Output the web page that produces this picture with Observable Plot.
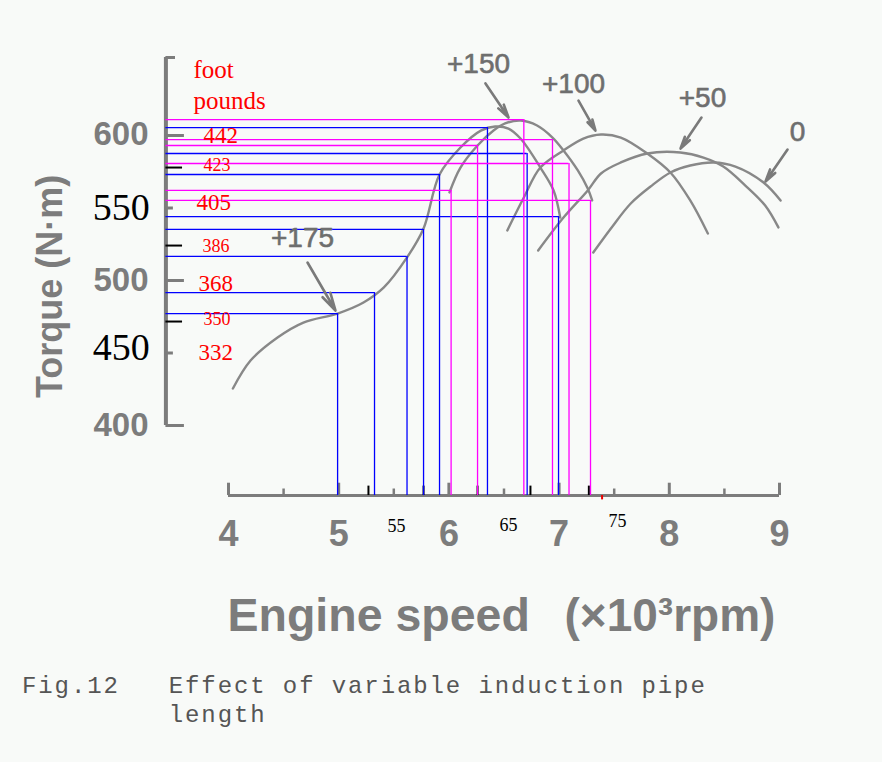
<!DOCTYPE html>
<html><head><meta charset="utf-8">
<script src="https://cdn.jsdelivr.net/npm/d3@7"></script>
<script src="https://cdn.jsdelivr.net/npm/@observablehq/plot@0.6"></script>
<style>
html,body{margin:0;padding:0;background:#f8faf8;}
#chart svg{display:block;background:transparent;}
#caption{font-family:"Liberation Mono",monospace;font-size:24px;letter-spacing:1.9px;color:#555;line-height:29px;white-space:pre;margin:17px 0 0 22px;}
</style></head><body>
<div id="chart"></div>
<div id="caption"></div>
<script>
// ---- data ----
const xTicks = [4, 5, 6, 7, 8, 9];
const xTickLabels = ["4", "5", "6", "7", "8", "9"];
const xHalfTicks = [4.5, 5.5, 6.5, 7.5, 8.5];
const xMarks = [5.27, 5.77, 6.26, 6.74, 7.27];
const xMarkLabels = ["55", "65", "75"];
const xMarkLabelRpm = [5.525, 6.541, 7.53];
const xMarkLabelTq = [330.3, 331.0, 333.8];

const yTicks = [400, 450, 500, 550, 600];
const yTickLabels = ["400", "450", "500", "550", "600"];
const yTickLabelTq = [400, 453.8, 500, 550.3, 600.7];

const ftlbLabels = ["442", "423", "405", "386", "368", "350", "332"];
const ftlbLabelRpm = [3.773, 3.773, 3.710, 3.764, 3.728, 3.773, 3.728];
const ftlbLabelTq = [594.5, 575.2, 548.3, 520.0, 493.1, 469.0, 445.5];
const ftlbTickTq = [577.9, 524.1, 471.7];
const unitLabels = ["foot", "pounds"];
const unitLabelTq = [640.0, 618.6];

const seriesNames = ["+175", "+150", "+100", "+50", "0"];
const rpm175 = [4.04, 4.20, 4.445, 4.68, 4.99, 5.225, 5.41, 5.62, 5.77, 5.915, 6.105, 6.29, 6.42, 6.54, 6.65, 6.83, 6.95, 7.01];
const tq175  = [425.5, 444.8, 460.7, 471.0, 477.2, 484.8, 495.2, 515.9, 535.9, 573.1, 591.7, 603.4, 606.2, 604.8, 597.9, 577.9, 562.1, 543.4];
const rpm150 = [6.005, 6.105, 6.26, 6.405, 6.51, 6.65, 6.80, 6.94, 7.04, 7.17, 7.26, 7.30];
const tq150  = [560.7, 577.9, 593.1, 603.4, 608.3, 610.3, 606.9, 598.6, 589.7, 575.9, 563.4, 555.2];
const rpm100 = [6.53, 6.68, 6.83, 7.04, 7.22, 7.38, 7.56, 7.80, 8.01, 8.19, 8.35];
const tq100  = [534.5, 557.2, 577.9, 589.7, 597.9, 600.7, 598.6, 587.6, 574.5, 555.2, 532.4];
const rpm50  = [6.81, 7.04, 7.26, 7.38, 7.56, 7.80, 8.10, 8.31, 8.49, 8.69, 8.87, 8.99];
const tq50   = [520.7, 543.4, 562.1, 573.8, 581.4, 587.6, 588.3, 584.8, 578.6, 565.5, 551.7, 536.6];
const rpm0   = [7.31, 7.47, 7.65, 7.83, 8.01, 8.19, 8.40, 8.60, 8.855, 9.01];
const tq0    = [519.3, 535.9, 553.1, 564.8, 574.5, 579.3, 581.4, 578.6, 567.6, 555.2];

const blueRpm = [4.99, 5.325, 5.62, 5.77, 5.915, 6.35, 6.71, 6.995];
const blueTq  = [477.2, 491.7, 516.6, 535.2, 573.1, 605.5, 587.6, 544.1];
const magentaRpm = [6.02, 6.26, 6.68, 6.94, 7.09, 7.285];
const magentaTq  = [562.1, 593.1, 611.0, 597.2, 580.7, 555.2];

const labelRpm = [4.672, 6.269, 7.131, 8.301, 9.163];
const labelTq  = [529.0, 649.0, 635.2, 625.5, 602.1];
const arrowFromRpm = [4.717, 6.332, 7.176, 8.292, 9.073];
const arrowFromTq  = [512.4, 635.9, 624.1, 612.4, 590.3];
const arrowToRpm   = [4.971, 6.541, 7.330, 8.102, 8.873];
const arrowToTq    = [479.3, 612.4, 603.4, 591.0, 568.3];

// ---- build tables ----
const curveRpm = [rpm175, rpm150, rpm100, rpm50, rpm0];
const curveTq = [tq175, tq150, tq100, tq50, tq0];
const curves = seriesNames.flatMap((s, i) => curveRpm[i].map((x, j) => ({s, x, y: curveTq[i][j]})));
const blue = blueRpm.map((x, i) => ({x, y: blueTq[i]}));
const magenta = magentaRpm.map((x, i) => ({x, y: magentaTq[i]}));
const annots = seriesNames.map((t, i) => ({t, x: labelRpm[i], y: labelTq[i],
  x1: arrowFromRpm[i], y1: arrowFromTq[i], x2: arrowToRpm[i], y2: arrowToTq[i]}));
const yLab = yTickLabels.map((t, i) => ({t, v: yTicks[i], y: yTickLabelTq[i]}));
const ftlb = ftlbLabels.map((t, i) => ({t, x: ftlbLabelRpm[i], y: ftlbLabelTq[i], major: i % 2 === 0}));

const AXY = 3.432;      // y-axis line position (rpm units)
const AXX = 351.7;      // x-axis line position (torque units)
const gray = "#7c7c7c";
const sans = "Liberation Sans, Arial, sans-serif";
const serif = "Liberation Serif, Times New Roman, serif";

const chart = Plot.plot({
  width: 882, height: 655,
  x: {domain: [4, 9], range: [228, 779], axis: null},
  y: {domain: [400, 600], range: [425, 135], axis: null},
  style: {background: "transparent"},
  marks: [
    // y axis
    Plot.ruleX([AXY], {y1: 400, y2: 653.8, stroke: gray, strokeWidth: 4}),
    Plot.ruleY([653.8], {x1: AXY, x2: 3.519, stroke: gray, strokeWidth: 3}),
    Plot.ruleY(yTicks, {x1: AXY, x2: d => d % 100 === 0 ? 3.60 : 3.50, stroke: gray, strokeWidth: 3}),
    Plot.ruleY(ftlbTickTq, {x1: AXY, x2: 3.583, stroke: "#000", strokeWidth: 2}),
    // x axis
    Plot.ruleY([AXX], {x1: 4, x2: 9, stroke: gray, strokeWidth: 3}),
    Plot.ruleX(xTicks, {y1: AXX, y2: AXX + 8.5, stroke: gray, strokeWidth: 3}),
    Plot.ruleX(xHalfTicks, {y1: AXX, y2: AXX + 4.5, stroke: gray, strokeWidth: 2.5}),
    Plot.ruleX(xMarks, {y1: AXX, y2: AXX + 6.5, stroke: "#000", strokeWidth: 2}),
    Plot.ruleX([7.39], {y1: AXX - 3, y2: AXX, stroke: "#e00", strokeWidth: 2}),
    // curves
    Plot.line(curves, {x: "x", y: "y", z: "s", curve: "catmull-rom", stroke: "#888888", strokeWidth: 2.4}),
    // guide lines
    Plot.ruleY(blue, {y: "y", x1: AXY, x2: "x", stroke: "#0000ff", strokeWidth: 1.3}),
    Plot.ruleX(blue, {x: "x", y1: "y", y2: AXX, stroke: "#0000ff", strokeWidth: 1.3}),
    Plot.ruleY(magenta, {y: "y", x1: AXY, x2: "x", stroke: "#ff00ff", strokeWidth: 1.3}),
    Plot.ruleX(magenta, {x: "x", y1: "y", y2: AXX, stroke: "#ff00ff", strokeWidth: 1.3}),
    // annotations
    Plot.arrow(annots, {x1: "x1", y1: "y1", x2: "x2", y2: "y2", stroke: "#7a7a7a", strokeWidth: 2.6, headLength: 14, headAngle: 28}),
    Plot.text(annots, {x: "x", y: "y", text: "t", fontFamily: sans, fontSize: 28, fill: "#6e6e6e", stroke: "#6e6e6e", strokeWidth: 0.6}),
    // y tick labels
    Plot.text(yLab.filter(d => d.v % 100 === 0), {x: 3.274, y: "y", text: "t", textAnchor: "end", fontFamily: sans, fontWeight: "bold", fontSize: 33, fill: gray}),
    Plot.text(yLab.filter(d => d.v % 100 !== 0), {x: 3.285, y: "y", text: "t", textAnchor: "end", fontFamily: serif, fontSize: 38, fill: "#000"}),
    Plot.text(["Torque (N·m)"], {x: [2.385], y: [495.9], text: d => d, rotate: -90, fontFamily: sans, fontWeight: "bold", fontSize: 36, fill: gray}),
    // foot-pound labels
    Plot.text(unitLabels, {x: 3.682, y: (d, i) => unitLabelTq[i], text: d => d, textAnchor: "start", lineAnchor: "bottom", fontFamily: serif, fontSize: 25, fill: "#ff0000"}),
    Plot.text(ftlb.filter(d => d.major), {x: "x", y: "y", text: "t", textAnchor: "start", lineAnchor: "bottom", fontFamily: serif, fontSize: 23, fill: "#ff0000"}),
    Plot.text(ftlb.filter(d => !d.major), {x: "x", y: "y", text: "t", textAnchor: "start", lineAnchor: "bottom", fontFamily: serif, fontSize: 18, fill: "#ff0000"}),
    // x tick labels
    Plot.text(xTickLabels, {x: (d, i) => xTicks[i], y: 324.8, text: d => d, fontFamily: sans, fontWeight: "bold", fontSize: 36, fill: gray}),
    Plot.text(xMarkLabels, {x: (d, i) => xMarkLabelRpm[i], y: (d, i) => xMarkLabelTq[i], text: d => d, fontFamily: serif, fontSize: 18, fill: "#000"}),
    // x axis title
    Plot.text(["Engine speed"], {x: [3.991], y: [258.6], text: d => d, textAnchor: "start", lineAnchor: "bottom", fontFamily: sans, fontWeight: "bold", fontSize: 46.5, fill: gray}),
    Plot.text(["(×10³rpm)"], {x: [7.049], y: [258.6], text: d => d, textAnchor: "start", lineAnchor: "bottom", fontFamily: sans, fontWeight: "bold", fontSize: 46, fill: gray})
  ]
});
document.getElementById("chart").append(chart);
document.getElementById("caption").textContent = "Fig.12   Effect of variable induction pipe\n         length";
</script></body></html>
